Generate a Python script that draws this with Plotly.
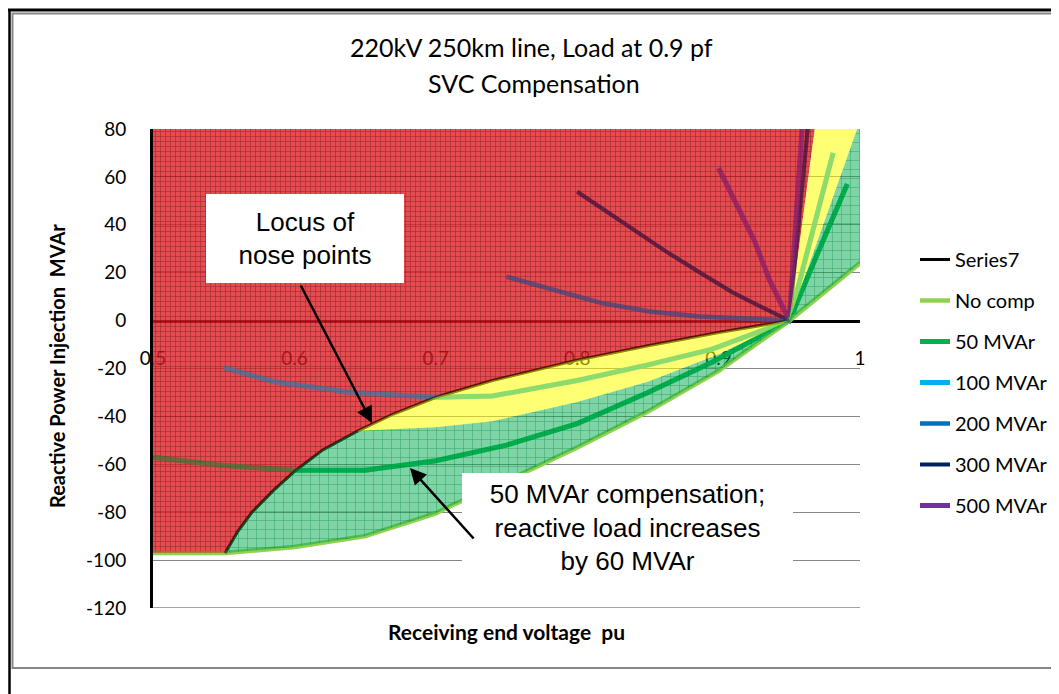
import plotly.graph_objects as go

# ---------------- data ----------------
# Locus of nose points (Series7)
v_locus = [0.551, 0.56, 0.57, 0.585, 0.60, 0.62, 0.645, 0.67, 0.70, 0.74, 0.80, 0.85, 0.90, 0.95]
q_locus = [-97, -88, -80, -71, -63, -54, -46, -39, -32, -25, -16.5, -10.5, -5, 0]

# No compensation
v_nocomp = [0.50, 0.551, 0.60, 0.65, 0.70, 0.71, 0.75, 0.80, 0.85, 0.90, 0.95, 1.00]
q_nocomp = [-97, -97, -94.5, -90, -80.5, -77.5, -67, -53, -38, -21, 0, 24]

# 50 MVAr
v_50 = [0.50, 0.55, 0.60, 0.65, 0.70, 0.75, 0.80, 0.85, 0.895, 0.95, 0.97, 0.991]
q_50 = [-57, -60.5, -62.5, -62.5, -58.5, -52, -43, -30, -17.5, 0, 28, 57]

# 100 MVAr
v_100 = [0.55, 0.585, 0.64, 0.70, 0.74, 0.80, 0.85, 0.895, 0.95, 0.981]
q_100 = [-19.6, -25.4, -30, -32, -31.5, -25, -18.5, -12, 0, 70]

# 200 MVAr
v_200 = [0.75, 0.781, 0.816, 0.851, 0.887, 0.922, 0.95]
q_200 = [18.3, 13, 7.5, 3.8, 1.7, 0.8, 0]

# 300 MVAr
v_300 = [0.80, 0.816, 0.84, 0.863, 0.887, 0.91, 0.934, 0.95, 0.963]
q_300 = [53.8, 47.5, 38, 28.8, 20, 11.7, 4.6, 0, 80]

# 500 MVAr
v_500 = [0.90, 0.91, 0.925, 0.936, 0.95, 0.959]
q_500 = [63.7, 51.7, 33.8, 17, 0, 80]

# lower edge of the yellow band (top of the lower green band)
v_yel_low = [0.645, 0.70, 0.74, 0.80, 0.85, 0.90, 0.95]
q_yel_low = [-46.5, -44.5, -42, -34, -25.5, -14, 0]

# corner points of the shaded regions
red_top_v = [0.50, 0.968]          # top edge at Q = 80
red_left_bottom = (0.50, -97)
yel_top_v = [0.968, 0.998]         # top edge of upper yellow wedge
grn_top_v = [0.998, 1.0]           # top edge of upper green wedge
q_top = 80

x_ticks = [0.5, 0.6, 0.7, 0.8, 0.9, 1.0]
x_tick_text = ["0.5", "0.6", "0.7", "0.8", "0.9", "1"]
y_ticks = [80, 60, 40, 20, 0, -20, -40, -60, -80, -100, -120]
y_tick_text = ["80", "60", "40", "20", "0", "-20", "-40", "-60", "-80", "-100", "-120"]

series = [
    ("Series7", v_locus, q_locus, "#000000", 3.0),
    ("No comp", v_nocomp, q_nocomp, "#92D050", 4.5),
    ("50 MVAr", v_50, q_50, "#00B050", 5.0),
    ("100 MVAr", v_100, q_100, "#00B0F0", 5.0),
    ("200 MVAr", v_200, q_200, "#0070C0", 4.5),
    ("300 MVAr", v_300, q_300, "#002060", 4.0),
    ("500 MVAr", v_500, q_500, "#7030A0", 5.0),
]

# ---------------- region polygons ----------------
i_split = v_locus.index(0.645)
red_x = [red_top_v[0], red_top_v[1]] + v_locus[::-1] + [red_left_bottom[0]]
red_y = [q_top, q_top] + q_locus[::-1] + [red_left_bottom[1]]

yel_x = v_locus[i_split:] + yel_top_v + [v_locus[-1]] + v_yel_low[::-1]
yel_y = q_locus[i_split:] + [q_top, q_top] + [0] + q_yel_low[::-1]

i_nc = v_nocomp.index(0.95)
grn_x = (v_locus[:i_split + 1] + v_yel_low[1:] + grn_top_v + [v_nocomp[-1]]
         + v_nocomp[1:i_nc + 1][::-1])
grn_y = (q_locus[:i_split + 1] + q_yel_low[1:] + [q_top, q_top] + [q_nocomp[-1]]
         + q_nocomp[1:i_nc + 1][::-1])

fig = go.Figure()

order = [3, 4, 5, 6, 2, 1, 0]


def add_lines(opacity, legend):
    for idx in order:
        name, vx, qy, col, w = series[idx]
        fig.add_trace(go.Scatter(
            x=vx, y=qy, mode="lines", name=name,
            line=dict(color=col, width=w), opacity=opacity,
            legendgroup=name, legendrank=idx + 1, showlegend=legend,
            hoverinfo="skip",
        ))


# lines first (they sit under the translucent regions)
add_lines(1.0, True)

# red region (hatched, mostly opaque)
fig.add_trace(go.Scatter(
    x=red_x, y=red_y, fill="toself", mode="none", showlegend=False, hoverinfo="skip",
    fillcolor="rgba(222,30,35,0.8)",
    fillpattern=dict(shape="+", bgcolor="rgba(222,30,35,0.8)", fgcolor="rgb(80,10,15)",
                     fgopacity=0.5, size=5, solidity=0.22),
))
# lines showing through the red hatch
add_lines(0.4, False)

fig.add_trace(go.Scatter(
    x=yel_x, y=yel_y, fill="toself", mode="none", showlegend=False, hoverinfo="skip",
    fillcolor="rgba(255,255,0,0.55)",
))
fig.add_trace(go.Scatter(
    x=grn_x, y=grn_y, fill="toself", mode="none", showlegend=False, hoverinfo="skip",
    fillcolor="rgba(0,170,75,0.5)",
    fillpattern=dict(shape="+", bgcolor="rgba(0,170,75,0.5)", fgcolor="rgb(0,130,60)",
                     fgopacity=0.55, size=9, solidity=0.12),
))

# page offset (body margin) -> work in reference pixel coordinates
OFF = 8
W, H = 1059 - OFF, 694 - OFF
PL, PR, PT, PB = 153, 860, 129, 608          # plot area in reference pixels
L, R, T, B = PL - OFF, W - (PR - OFF), PT - OFF, H - (PB - OFF)


def px(xp):
    return (xp - PL) / (PR - PL)


def py(yp):
    return (PB - yp) / (PB - PT)


def dx(xp):
    return 0.5 + (xp - PL) / (PR - PL) * 0.5


def dy(yp):
    return 80 - (yp - PT) / (PB - PT) * 200


font_c = "Lato, 'Open Sans', sans-serif"
font_a = "'Liberation Sans', Arial, sans-serif"

shapes = [
    dict(type="line", xref="paper", yref="paper", x0=px(8), x1=px(1070), y0=py(10), y1=py(10),
         line=dict(color="black", width=3)),
    dict(type="line", xref="paper", yref="paper", x0=px(9.5), x1=px(9.5), y0=py(10), y1=py(710),
         line=dict(color="black", width=2.5)),
    dict(type="rect", xref="paper", yref="paper", x0=px(12.5), x1=px(1080), y0=py(13.5), y1=py(668),
         line=dict(color="#878787", width=2)),
    dict(type="line", xref="x", yref="y", x0=0.5, x1=1.0, y0=-120, y1=-120, layer="below",
         line=dict(color="#868686", width=1.5)),
]

annotations = [
    dict(text="220kV 250km line, Load at 0.9 pf", xref="paper", yref="paper", x=px(531), y=py(47),
         showarrow=False, font=dict(family=font_c, size=25, color="black"), xanchor="center", yanchor="middle"),
    dict(text="SVC Compensation", xref="paper", yref="paper", x=px(534), y=py(83),
         showarrow=False, font=dict(family=font_c, size=25, color="black"), xanchor="center", yanchor="middle"),
    dict(text="<b>Receiving end voltage  pu</b>", xref="paper", yref="paper", x=px(506), y=py(631),
         showarrow=False, font=dict(family=font_c, size=21, color="black"), xanchor="center", yanchor="middle"),
    dict(text="<b>Reactive Power Injection  MVAr</b>", xref="paper", yref="paper", x=px(57), y=py(366),
         showarrow=False, textangle=-90, font=dict(family=font_c, size=20, color="black"),
         xanchor="center", yanchor="middle"),
    dict(text="Locus of<br>nose points", xref="x", yref="y",
         x=dx(305), y=dy(238.5),
         showarrow=False, bgcolor="white", width=198, height=89, borderpad=0, borderwidth=0,
         font=dict(family=font_a, size=26, color="black"), align="center"),
    dict(text="50 MVAr compensation;<br>reactive load increases<br>by 60 MVAr", xref="x", yref="y",
         x=dx(627.5), y=dy(527.5),
         showarrow=False, bgcolor="white", width=331, height=109, borderpad=0, borderwidth=0,
         font=dict(family=font_a, size=26, color="black"), align="center"),
    dict(text="", xref="x", yref="y", x=dx(372), y=dy(423), ax=-72, ay=-139,
         showarrow=True, arrowhead=2, arrowsize=1.3, arrowwidth=2.5, arrowcolor="black"),
    dict(text="", xref="x", yref="y", x=dx(410), y=dy(468), ax=65, ay=72,
         showarrow=True, arrowhead=2, arrowsize=1.3, arrowwidth=2.5, arrowcolor="black"),
]

fig.update_layout(
    width=W, height=H,
    margin=dict(l=L, r=R, t=T, b=B, pad=0, autoexpand=False),
    paper_bgcolor="white", plot_bgcolor="white",
    showlegend=True,
    legend=dict(x=px(915), xanchor="left", y=py(240), yanchor="top",
                font=dict(family=font_c, size=20, color="black"),
                tracegroupgap=12, bgcolor="rgba(0,0,0,0)", traceorder="grouped"),
    shapes=shapes,
    annotations=annotations,
    xaxis=dict(range=[0.5, 1.0], tickvals=x_ticks, ticktext=x_tick_text,
               anchor="free", position=0.6, showline=True, linecolor="black", linewidth=3,
               showgrid=False, zeroline=False, ticks="", layer="below traces",
               ticklabelstandoff=20, automargin=False,
               tickfont=dict(family=font_c, size=19, color="black")),
    yaxis=dict(range=[-120, 80], tickvals=y_ticks, ticktext=y_tick_text,
               showline=True, linecolor="black", linewidth=3, automargin=False,
               showgrid=True, gridcolor="#868686", gridwidth=1, zeroline=False, ticks="",
               layer="below traces", ticklabelstandoff=20,
               tickfont=dict(family=font_c, size=19, color="black")),
)

fig.write_html("out.html")
